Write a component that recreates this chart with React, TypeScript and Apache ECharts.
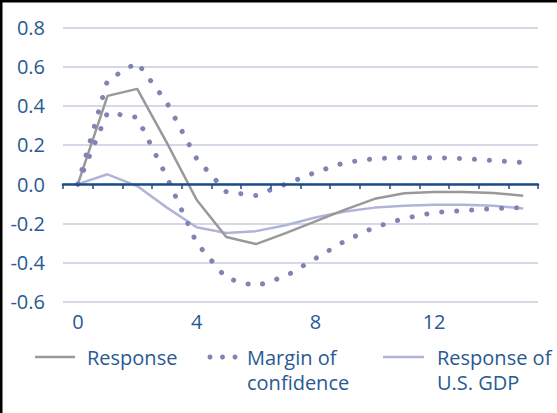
import { useEffect, useRef } from "react";
import * as echarts from "echarts";

// Quarters after the shock
const periods = ["0", "1", "2", "3", "4", "5", "6", "7", "8", "9", "10", "11", "12", "13", "14", "15"];

// Impulse response and its confidence band
const response = [0, 0.45, 0.486, 0.21, -0.08, -0.27, -0.306, -0.25, -0.19, -0.13, -0.075, -0.047, -0.04, -0.04, -0.045, -0.06];
const upperBand = [0, 0.53, 0.62, 0.415, 0.13, -0.04, -0.058, 0.0, 0.06, 0.11, 0.13, 0.135, 0.135, 0.13, 0.12, 0.11];
const lowerBand = [0, 0.365, 0.34, 0.035, -0.3, -0.48, -0.52, -0.47, -0.38, -0.29, -0.22, -0.175, -0.145, -0.135, -0.125, -0.12];

// Response of U.S. GDP
const gdpResponse = [0, 0.05, -0.01, -0.12, -0.22, -0.25, -0.24, -0.21, -0.17, -0.14, -0.12, -0.11, -0.105, -0.105, -0.11, -0.125];

const legendLabels = ["Response", "Margin of\nconfidence", "Response of\nU.S. GDP"];

const TEXT_BLUE = "#285a93";
const AXIS_NAVY = "#1c4d86";
const GRID_LINE = "#c9cbe0";
const RESPONSE_GRAY = "#999999";
const BAND_DOT = "#7f84b4";
const GDP_LAVENDER = "#b0b4d8";
const FONT = '"Open Sans", sans-serif';
const WEIGHT = 500;

const dotted = {
  color: BAND_DOT,
  width: 5,
  type: [0.1, 14.9] as number[],
  cap: "round" as const,
};

export default function App() {
  const ref = useRef<HTMLDivElement>(null);

  useEffect(() => {
    if (!ref.current) return;
    const chart = echarts.init(ref.current, undefined, { renderer: "svg" });

    const legendY = 357;
    const textStyle = (text: string, x: number) => ({
      type: "text",
      x,
      y: legendY - 12.5,
      style: {
        text,
        fill: TEXT_BLUE,
        fontSize: 20,
        fontWeight: WEIGHT,
        fontFamily: FONT,
        lineHeight: 25,
        align: "left",
        verticalAlign: "top",
        textAlign: "left",
        textVerticalAlign: "top",
      },
    });

    chart.setOption({
      animation: false,
      backgroundColor: "#ffffff",
      grid: { left: 63, right: 19, top: 27.3, bottom: 111.3, containLabel: false },
      xAxis: [
        {
          type: "category",
          data: periods,
          boundaryGap: true,
          axisLine: { show: true, onZero: true, lineStyle: { color: AXIS_NAVY, width: 2.5 } },
          axisTick: { show: true, length: 5, lineStyle: { color: AXIS_NAVY, width: 1.5 } },
          axisLabel: { show: false },
          splitLine: { show: false },
          z: 5,
        },
        {
          type: "category",
          data: periods,
          position: "bottom",
          boundaryGap: true,
          axisLine: { show: false, onZero: false },
          axisTick: { show: false },
          axisLabel: {
            show: true,
            interval: 3,
            margin: 10,
            color: TEXT_BLUE,
            fontSize: 20,
            fontWeight: WEIGHT,
            fontFamily: FONT,
          },
          splitLine: { show: false },
        },
      ],
      yAxis: {
        type: "value",
        min: -0.6,
        max: 0.8,
        interval: 0.2,
        axisLine: { show: false },
        axisTick: { show: false },
        axisLabel: {
          margin: 18,
          color: TEXT_BLUE,
          fontSize: 20,
          fontWeight: WEIGHT,
          fontFamily: FONT,
          formatter: (v: number) => v.toFixed(1),
        },
        splitLine: { show: true, lineStyle: { color: GRID_LINE, width: 1.5 } },
      },
      series: [
        {
          name: "Response of U.S. GDP",
          type: "line",
          data: gdpResponse,
          symbol: "none",
          lineStyle: { color: GDP_LAVENDER, width: 2.5 },
          z: 2,
        },
        {
          name: "Response",
          type: "line",
          data: response,
          symbol: "none",
          lineStyle: { color: RESPONSE_GRAY, width: 2.5 },
          z: 3,
        },
        {
          name: "Upper bound",
          type: "line",
          data: upperBand,
          symbol: "none",
          lineStyle: dotted,
          z: 4,
        },
        {
          name: "Lower bound",
          type: "line",
          data: lowerBand,
          symbol: "none",
          lineStyle: dotted,
          z: 4,
        },
      ],
      graphic: [
        // frame edges
        { type: "rect", shape: { x: 0, y: 0, width: 557, height: 2.5 }, style: { fill: "#000" } },
        { type: "rect", shape: { x: 0, y: 0, width: 2.5, height: 413 }, style: { fill: "#000" } },
        // legend
        {
          type: "line",
          shape: { x1: 35, y1: legendY, x2: 75, y2: legendY },
          style: { stroke: RESPONSE_GRAY, lineWidth: 2.5 },
        },
        textStyle(legendLabels[0], 87),
        { type: "circle", shape: { cx: 210, cy: legendY, r: 2.5 }, style: { fill: BAND_DOT } },
        { type: "circle", shape: { cx: 222.5, cy: legendY, r: 2.5 }, style: { fill: BAND_DOT } },
        { type: "circle", shape: { cx: 235, cy: legendY, r: 2.5 }, style: { fill: BAND_DOT } },
        textStyle(legendLabels[1], 247),
        {
          type: "line",
          shape: { x1: 383, y1: legendY, x2: 424, y2: legendY },
          style: { stroke: GDP_LAVENDER, lineWidth: 2.5 },
        },
        textStyle(legendLabels[2], 437),
      ],
    });

    return () => chart.dispose();
  }, []);

  return (
    <div
      ref={ref}
      style={{ position: "absolute", left: 0, top: 0, width: 557, height: 413, background: "#fff" }}
    />
  );
}
